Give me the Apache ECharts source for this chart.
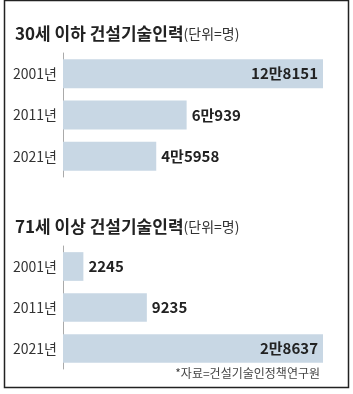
<!DOCTYPE html>
<html>
<head>
<meta charset="utf-8">
<script src="https://cdn.jsdelivr.net/npm/echarts@6/dist/echarts.min.js"></script>
<style>
  html, body { margin: 0; padding: 0; background: #fff; }
  #chart { width: 353px; height: 394px; }
</style>
</head>
<body>
<div id="chart"></div>
<script>
// 데이터
var years = ['2001년', '2011년', '2021년'];
var young = [128151, 60939, 45958];   // 30세 이하
var old = [2245, 9235, 28637];        // 71세 이상

var FONT = '"Noto Sans CJK KR", sans-serif';

// 12만8151 형태로 변환
function toMan(v) {
  var man = Math.floor(v / 10000);
  var rest = v % 10000;
  return man > 0 ? man + '만' + rest : String(rest);
}

function barData(arr) {
  var maxV = Math.max.apply(null, arr);
  return arr.map(function (v) {
    return {
      value: v,
      label: { position: v === maxV ? 'insideRight' : 'right', distance: 5 }
    };
  });
}

var chart = echarts.init(document.getElementById('chart'));

var option = {
  animation: false,
  graphic: [
    {
      type: 'rect',
      shape: { x: 4.5, y: 0.5, width: 344, height: 387 },
      style: { fill: 'none', stroke: '#222', lineWidth: 1.5 }
    },
    {
      type: 'text', left: 15, top: 25,
      style: {
        text: '{b|30세 이하 건설기술인력}{n|(단위=명)}',
        rich: {
          b: { fontFamily: FONT, fontSize: 17, fontWeight: 'bold', fill: '#222' },
          n: { fontFamily: FONT, fontSize: 14, fill: '#333' }
        }
      }
    },
    {
      type: 'text', left: 15, top: 218,
      style: {
        text: '{b|71세 이상 건설기술인력}{n|(단위=명)}',
        rich: {
          b: { fontFamily: FONT, fontSize: 17, fontWeight: 'bold', fill: '#222' },
          n: { fontFamily: FONT, fontSize: 14, fill: '#333' }
        }
      }
    },
    {
      type: 'text', right: 33, top: 367,
      style: { text: '*자료=건설기술인정책연구원', fontFamily: FONT, fontSize: 12, fill: '#444' }
    }
  ],
  grid: [
    { left: 63, top: 53, width: 260, height: 124 },
    { left: 63, top: 246, width: 260, height: 123 }
  ],
  xAxis: [0, 1].map(function (i) {
    return {
      type: 'value', gridIndex: i, min: 0,
      max: function (e) { return e.max; },
      show: false
    };
  }),
  yAxis: [0, 1].map(function (i) {
    return {
      type: 'category', gridIndex: i, data: years, inverse: true,
      axisLine: { show: true, lineStyle: { color: '#aaa', width: 1 } },
      axisTick: { show: false },
      axisLabel: { fontFamily: FONT, fontSize: 14, color: '#333', margin: 6 }
    };
  }),
  series: [
    { data: barData(young), xAxisIndex: 0, yAxisIndex: 0 },
    { data: barData(old), xAxisIndex: 1, yAxisIndex: 1 }
  ].map(function (s) {
    return {
      type: 'bar',
      data: s.data,
      xAxisIndex: s.xAxisIndex,
      yAxisIndex: s.yAxisIndex,
      barCategoryGap: '30%',
      itemStyle: { color: '#c8d7e4' },
      label: {
        show: true,
        fontFamily: FONT, fontSize: 15, fontWeight: 'bold', color: '#222',
        formatter: function (p) { return toMan(p.value); }
      }
    };
  })
};

chart.setOption(option);
</script>
</body>
</html>
